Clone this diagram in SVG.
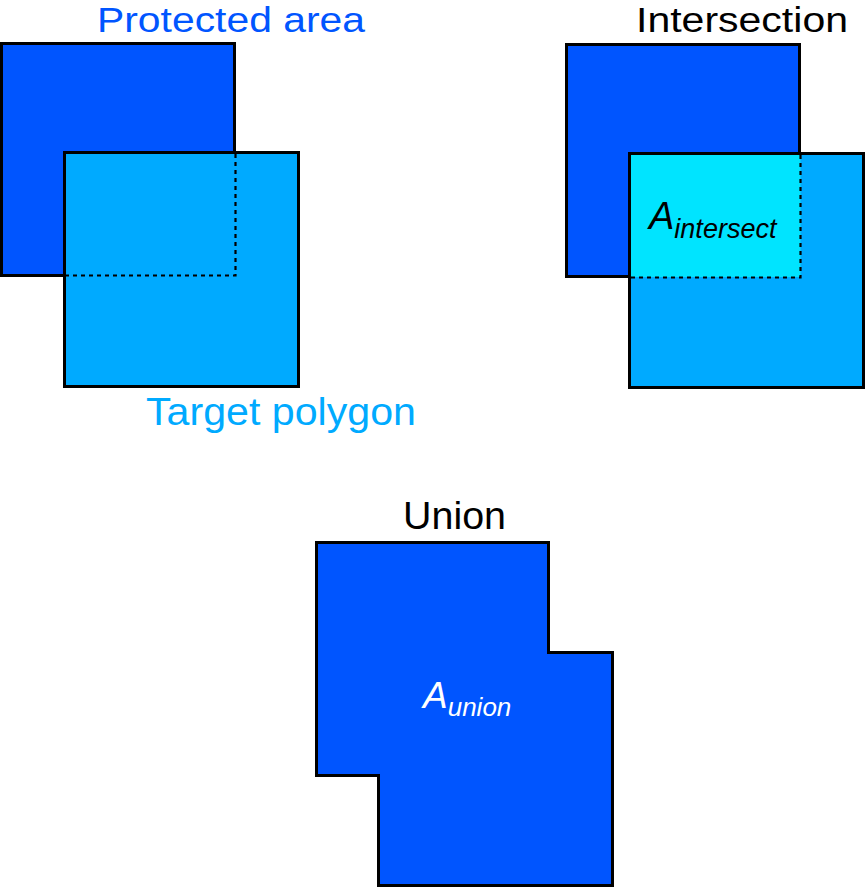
<svg xmlns="http://www.w3.org/2000/svg" width="865" height="888" viewBox="0 0 865 888">
<style>
.lbl{font-family:"Liberation Sans",Arial,sans-serif;font-size:38px}
.top{font-size:35px}
.shape{stroke:#000;stroke-width:3}
.prot{fill:#0055ff}
.targ{fill:#00aaff}
.inter{fill:#00e4ff}
.dash{fill:none;stroke:#000;stroke-width:2.2;stroke-dasharray:4 4}
.math{font-family:"Liberation Sans",Arial,sans-serif;font-style:italic}
</style>
<rect width="865" height="888" fill="#fff"/>
<g id="left">
  <rect class="shape prot" x="1.5" y="43.5" width="233" height="232"/>
  <rect class="shape targ" x="64.5" y="152.5" width="234" height="234"/>
  <path class="dash" d="M235.5,154 V275.5 H66"/>
  <text class="lbl top" x="97" y="31.5" fill="#0055ff" textLength="268" lengthAdjust="spacingAndGlyphs">Protected area</text>
  <text class="lbl" x="146" y="425" fill="#00aaff" textLength="270" lengthAdjust="spacingAndGlyphs">Target polygon</text>
</g>
<g id="intersection">
  <rect class="shape prot" x="566.5" y="44.5" width="233" height="232"/>
  <rect class="shape targ" x="629.5" y="153.5" width="234" height="234"/>
  <rect class="inter" x="631" y="155" width="169.5" height="122"/>
  <path class="dash" d="M800.5,155 V277.5 H631"/>
  <text class="lbl top" x="636" y="31.5" fill="#000" textLength="212" lengthAdjust="spacingAndGlyphs">Intersection</text>
  <text class="math" x="649" y="229" font-size="38" fill="#000">A<tspan font-size="27" dy="9">intersect</tspan></text>
</g>
<g id="union">
  <polygon class="shape prot" points="316.5,542.5 548.5,542.5 548.5,652.5 612.5,652.5 612.5,885.5 378.5,885.5 378.5,775.5 316.5,775.5"/>
  <text class="lbl" x="403" y="529" fill="#000" textLength="103" lengthAdjust="spacingAndGlyphs">Union</text>
  <text class="math" x="423" y="708" font-size="37" fill="#fff">A<tspan font-size="26" dy="8">union</tspan></text>
</g>
<g id="connectors"/>
</svg>
